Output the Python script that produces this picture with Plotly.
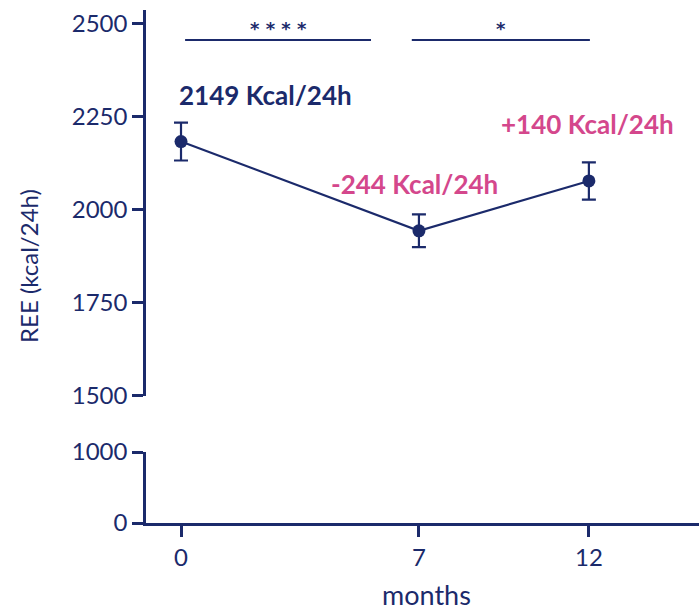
import plotly.graph_objects as go

months = [0, 7, 12]
ree_mean = [2184, 1944, 2078]
ree_sem = [51, 44, 50]
tick_top = [1500, 1750, 2000, 2250, 2500]
tick_bottom = [0, 1000]
x_ticks = [0, 7, 12]
labels = ["2149 Kcal/24h", "-244 Kcal/24h", "+140 Kcal/24h"]

NAVY = "#1b2a6b"
PINK = "#d4478c"
FONT = "Lato"

fig = go.Figure()
fig.add_trace(go.Scatter(
    x=months, y=ree_mean,
    error_y=dict(type="data", array=ree_sem, color=NAVY, thickness=2.2, width=7),
    mode="lines+markers",
    line=dict(color=NAVY, width=2.2),
    marker=dict(color=NAVY, size=13),
    xaxis="x", yaxis="y", showlegend=False,
))
# invisible trace to activate lower axis
fig.add_trace(go.Scatter(x=[None], y=[None], xaxis="x", yaxis="y2", showlegend=False))

axis_common = dict(
    showline=True, linecolor=NAVY, linewidth=2.5, ticks="outside", ticklen=11,
    tickwidth=2.5, tickcolor=NAVY, showgrid=False, zeroline=False, automargin=False,
    tickfont=dict(family=FONT, size=24, color=NAVY),
)

fig.update_layout(
    width=699, height=610,
    margin=dict(l=146, r=0, t=10, b=87),
    plot_bgcolor="white", paper_bgcolor="white",
    xaxis=dict(range=[-1.03, 15.24], tickvals=x_ticks, anchor="y2",
               **axis_common),
    yaxis=dict(domain=[0.2476, 1.0], range=[1500, 2537.6], tickvals=tick_top,
               anchor="x", **axis_common),
    yaxis2=dict(domain=[0.0, 0.1384], range=[0, 1000], tickvals=tick_bottom,
                anchor="x", **axis_common),
)

# significance bars
sig = [(0.12, 5.59, "* * * *"), (6.79, 12.03, "*")]
for x0, x1, s in sig:
    fig.add_shape(type="line", x0=x0, x1=x1, y0=2457, y1=2457, xref="x", yref="y",
                  line=dict(color=NAVY, width=2.2))
    fig.add_annotation(x=(x0 + x1) / 2, y=2487, xref="x", yref="y", text=f"<b>{s}</b>",
                       showarrow=False, font=dict(family="DejaVu Sans", size=18, color=NAVY))

# value labels
lab_pos = [(2.5, 2309, NAVY), (6.88, 2070, PINK), (11.97, 2231, PINK)]
for (lx, ly, c), t in zip(lab_pos, labels):
    fig.add_annotation(x=lx, y=ly, xref="x", yref="y", text=f"<b>{t}</b>",
                       showarrow=False, font=dict(family=FONT, size=26, color=c))

# axis titles
fig.add_annotation(x=(28 - 146) / 553, y=(523 - 266) / 513, xref="paper", yref="paper",
                   xanchor="center", yanchor="middle",
                   text="REE (kcal/24h)", textangle=-90, showarrow=False,
                   font=dict(family=FONT, size=24, color=NAVY))
fig.add_annotation(x=(426 - 146) / 553, y=(523 - 594) / 513, xref="paper", yref="paper",
                   xanchor="center", yanchor="middle",
                   text="months", showarrow=False,
                   font=dict(family=FONT, size=27, color=NAVY))

fig.write_html("out.html", config={"displayModeBar": False},
               post_script="document.body.style.margin='0';document.body.style.overflow='hidden';")
